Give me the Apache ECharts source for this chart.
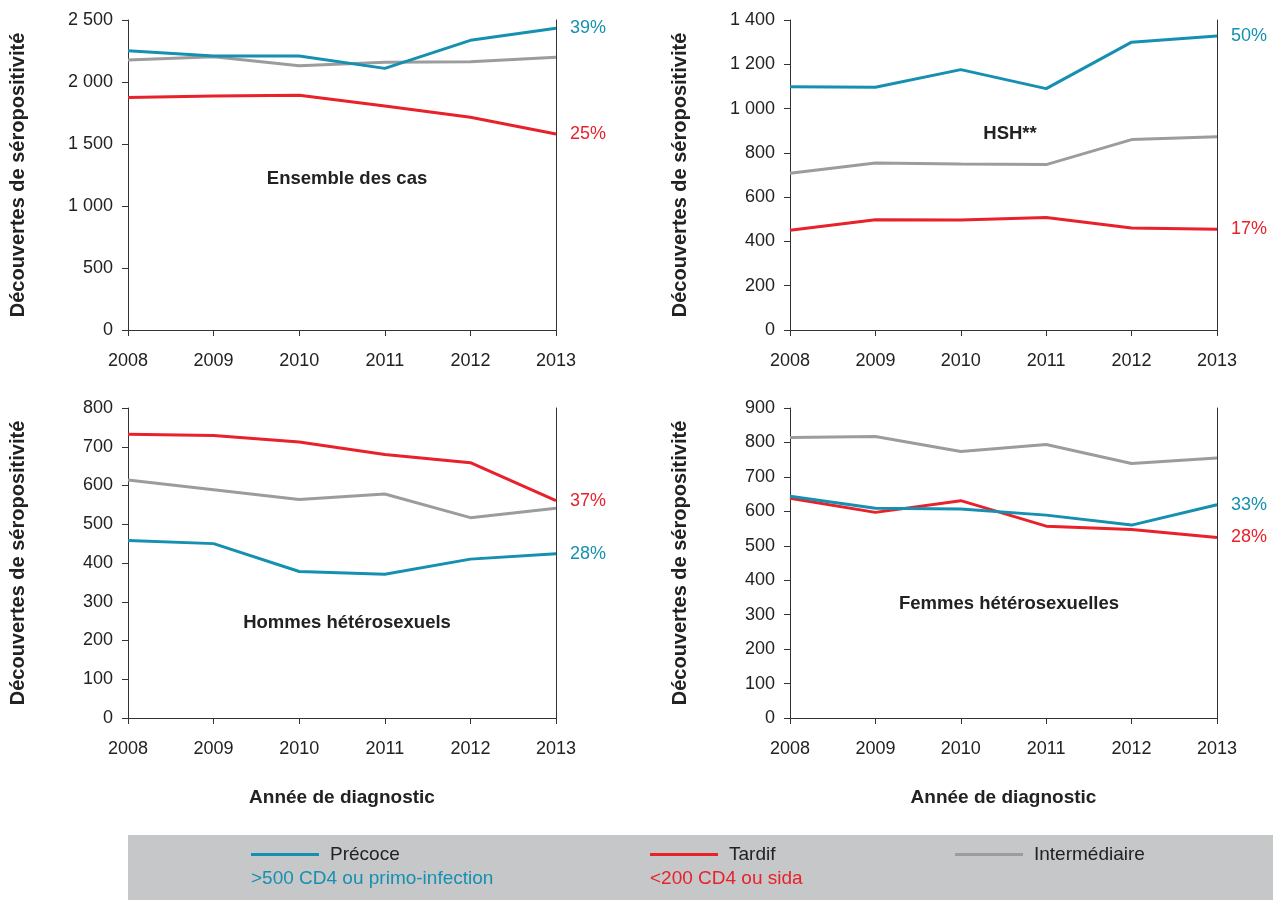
<!DOCTYPE html>
<html>
<head>
<meta charset="utf-8">
<script src="https://cdn.jsdelivr.net/npm/echarts@6/dist/echarts.min.js"></script>
<style>
  html, body { margin: 0; padding: 0; background: #fff; }
  #chart { width: 1273px; height: 900px; }
</style>
</head>
<body>
<div id="chart"></div>
<script>
const years = ['2008', '2009', '2010', '2011', '2012', '2013']
const panelTitles = ['Ensemble des cas', 'HSH**', 'Hommes hétérosexuels', 'Femmes hétérosexuelles']
const yMax = [2500, 1400, 800, 900]
const yStep = [500, 200, 100, 100]

// Précoce / Tardif / Intermédiaire per panel
const precoce = [
  [2252, 2210, 2210, 2110, 2336, 2433],
  [1098, 1096, 1176, 1090, 1300, 1328],
  [458, 450, 378, 371, 410, 424],
  [644, 609, 607, 589, 560, 619],
]
const tardif = [
  [1876, 1887, 1893, 1806, 1715, 1581],
  [450, 498, 497, 508, 461, 455],
  [732, 729, 712, 680, 659, 561],
  [638, 597, 631, 557, 547, 524],
]
const intermediaire = [
  [2177, 2204, 2131, 2159, 2164, 2199],
  [708, 754, 750, 747, 860, 873],
  [614, 589, 564, 578, 517, 541],
  [814, 817, 774, 794, 739, 755],
]
const pctPrecoce = ['39%', '50%', '28%', '33%']
const pctTardif = ['25%', '17%', '37%', '28%']

const BLUE = '#1590b0'
const RED = '#e8212b'
const GREY = '#9c9c9e'
const FONT = '"Liberation Sans", Arial, sans-serif'

const grids = [
  { left: 128, top: 20, width: 428, height: 310 },
  { left: 790, top: 20, width: 427, height: 310 },
  { left: 128, top: 408, width: 428, height: 310 },
  { left: 790, top: 408, width: 427, height: 310 },
]
const titlePos = [[342, 164], [1005, 119], [342, 608], [1004, 589]]

const fmtNum = v => String(v).replace(/\B(?=(\d{3})+(?!\d))/g, ' ')

const xAxis = grids.map((g, i) => ({
  type: 'category', gridIndex: i, data: years, boundaryGap: false,
  axisLine: { lineStyle: { color: '#333', width: 1 } },
  axisTick: { show: true, length: 6, lineStyle: { color: '#333' } },
  axisLabel: { color: '#222', fontSize: 18, fontFamily: FONT, margin: 22 },
  name: i >= 2 ? 'Année de diagnostic' : '',
  nameLocation: 'middle', nameGap: 70,
  nameTextStyle: { color: '#222', fontSize: 19, fontWeight: 'bold', fontFamily: FONT },
}))

const yAxis = []
grids.forEach((g, i) => {
  yAxis.push({
    type: 'value', gridIndex: i, min: 0, max: yMax[i], interval: yStep[i],
    axisLine: { show: true, lineStyle: { color: '#333', width: 1 } },
    axisTick: { show: true, length: 6, lineStyle: { color: '#333' } },
    splitLine: { show: false },
    axisLabel: { color: '#222', fontSize: 18, fontFamily: FONT, margin: 15, formatter: fmtNum },
    name: 'Découvertes de séropositivité',
    nameLocation: 'middle', nameGap: 100, nameRotate: 90,
    nameTextStyle: { color: '#222', fontSize: 20, fontWeight: 'bold', fontFamily: FONT },
  })
  yAxis.push({
    type: 'value', gridIndex: i, min: 0, max: yMax[i], interval: yStep[i], position: 'right',
    axisLine: { show: true, lineStyle: { color: '#333', width: 1 } },
    axisTick: { show: false }, axisLabel: { show: false }, splitLine: { show: false },
  })
})

const series = []
grids.forEach((g, i) => {
  const mk = (name, data, color, pct) => ({
    name, type: 'line', xAxisIndex: i, yAxisIndex: i * 2, data,
    symbol: 'none', animation: false,
    lineStyle: { color, width: 3 }, itemStyle: { color },
    endLabel: pct ? { show: true, formatter: pct, color, fontSize: 18, fontFamily: FONT, distance: 14 } : { show: false },
  })
  series.push(mk('Intermédiaire', intermediaire[i], GREY, null))
  series.push(mk('Tardif', tardif[i], RED, pctTardif[i]))
  series.push(mk('Précoce', precoce[i], BLUE, pctPrecoce[i]))
})

const legendBase = {
  icon: 'rect', itemWidth: 68, itemHeight: 3, itemGap: 10, top: 845, padding: 0,
  textStyle: { color: '#222', fontSize: 19, fontFamily: FONT, padding: [0, 0, 0, 6] },
  selectedMode: false,
}

const chart = echarts.init(document.getElementById('chart'))
chart.setOption({
  animation: false,
  title: panelTitles.map((t, i) => ({
    text: t, left: titlePos[i][0], top: titlePos[i][1], textAlign: 'center',
    textStyle: { color: '#222', fontSize: 18.5, fontWeight: 'bold', fontFamily: FONT },
  })),
  grid: grids,
  xAxis, yAxis, series,
  legend: [
    { ...legendBase, left: 251, data: ['Précoce'] },
    { ...legendBase, left: 650, data: ['Tardif'] },
    { ...legendBase, left: 955, data: ['Intermédiaire'] },
  ],
  graphic: [
    { type: 'rect', left: 128, top: 835, z: -10, shape: { width: 1145, height: 65 }, style: { fill: '#c6c7c9' } },
    { type: 'text', left: 251, top: 869, style: { text: '>500 CD4 ou primo-infection', fill: BLUE, font: '19px ' + FONT } },
    { type: 'text', left: 650, top: 869, style: { text: '<200 CD4 ou sida', fill: RED, font: '19px ' + FONT } },
  ],
})
</script>
</body>
</html>
